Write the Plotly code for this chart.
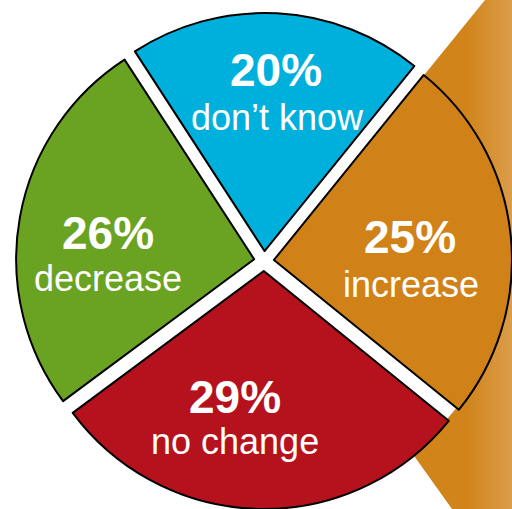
import numpy as np
import plotly.graph_objects as go

# Survey answers and their shares (percent)
labels = ["don\u2019t know", "increase", "no change", "decrease"]
values = [20, 25, 29, 26]
colors = ["#00B0DC", "#D08218", "#B5121D", "#6AA222"]

W, H = 512, 509

# Pie placement in pixels (centre and half-size of its square domain)
CX, CY, HALF = 264, 261, 248
PULL = 0.042

# Decorative callout wedge behind the "increase" slice (pixel coordinates)
wedge_x = [274, 485, 512, 512, 452, 274]
wedge_y = [260, 0, 0, 509, 509, 260]

# Label anchor points (pixel coordinates): percent line, then name line
pct_pos = [(276, 70), (410, 237), (235, 397), (108, 233)]
name_pos = [(277, 117), (411, 284), (235, 441), (108, 278)]

fig = go.Figure()

fig.add_trace(go.Scatter(
    x=wedge_x, y=wedge_y, mode="lines", fill="toself",
    line=dict(width=0),
    fillgradient=dict(
        type="horizontal", start=0, stop=W,
        colorscale=[[0, "#D0841A"], [0.91, "#D0841A"], [1, "#DB9D4A"]],
    ),
    hoverinfo="skip", showlegend=False,
))

# White disk under the pie so the gaps between slices stay white
t = np.linspace(0, 2 * np.pi, 361)
disk_r = HALF / (1 + PULL) + 4
fig.add_trace(go.Scatter(
    x=CX + disk_r * np.cos(t), y=CY + disk_r * np.sin(t),
    mode="lines", fill="toself", fillcolor="white",
    line=dict(width=0), hoverinfo="skip", showlegend=False,
))

fig.add_trace(go.Pie(
    labels=labels, values=values, sort=False, direction="clockwise",
    rotation=-33,
    marker=dict(colors=colors, line=dict(color="black", width=2)),
    pull=[PULL] * len(values),
    textinfo="none",
    domain=dict(x=[(CX - HALF) / W, (CX + HALF) / W],
                y=[(H - CY - HALF) / H, (H - CY + HALF) / H]),
    hoverinfo="skip", showlegend=False,
))

font_family = "Liberation Sans, Arial, sans-serif"
for v, lab, (px, py), (nx, ny) in zip(values, labels, pct_pos, name_pos):
    fig.add_annotation(
        x=px, y=py, xref="x", yref="y", text=f"<b>{v}%</b>",
        showarrow=False, xanchor="center", yanchor="middle",
        font=dict(family=font_family, size=46, color="white"),
    )
    fig.add_annotation(
        x=nx, y=ny, xref="x", yref="y", text=lab,
        showarrow=False, xanchor="center", yanchor="middle",
        font=dict(family=font_family, size=36, color="white"),
    )

fig.update_layout(
    width=W, height=H,
    margin=dict(l=0, r=0, t=0, b=0),
    paper_bgcolor="white", plot_bgcolor="white",
    xaxis=dict(range=[0, W], visible=False, domain=[0, 1], fixedrange=True),
    yaxis=dict(range=[H, 0], visible=False, domain=[0, 1], fixedrange=True),
    showlegend=False,
)

fig.write_html("out.html")
